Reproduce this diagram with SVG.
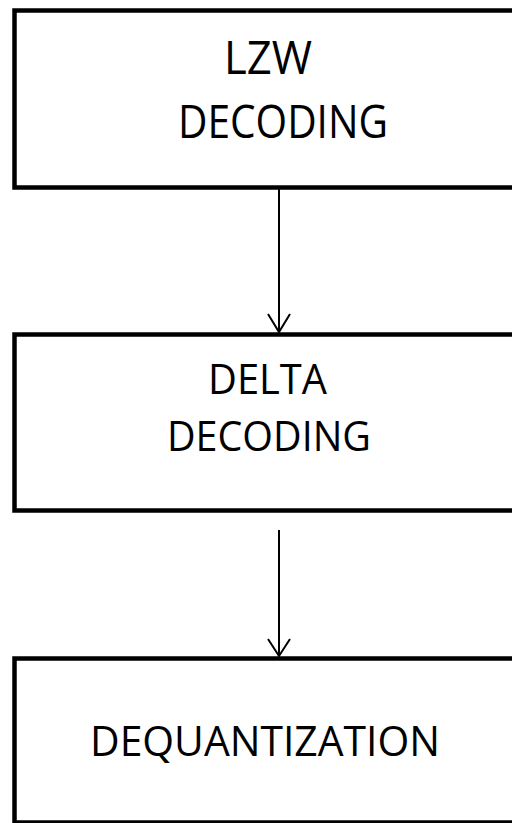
<svg xmlns="http://www.w3.org/2000/svg" width="512" height="823" viewBox="0 0 512 823">
<style>
.box{fill:#fff;stroke:#000;stroke-width:4.5}
.t{font-family:"Open Sans","Noto Sans",sans-serif;fill:#000;text-anchor:middle}
.c{stroke:#000;stroke-width:2;fill:none}
</style>
<rect width="512" height="823" fill="#fff"/>
<g id="n1"><rect class="box" x="14.5" y="10.5" width="520" height="177"/>
<text class="t" x="268" y="74" font-size="45" textLength="88" lengthAdjust="spacingAndGlyphs">LZW</text>
<text class="t" x="283" y="138" font-size="45" textLength="210" lengthAdjust="spacingAndGlyphs">DECODING</text></g>
<g id="n2"><rect class="box" x="14.5" y="334.5" width="520" height="176"/>
<text class="t" x="267.5" y="394" font-size="42" textLength="119" lengthAdjust="spacingAndGlyphs">DELTA</text>
<text class="t" x="269" y="451" font-size="42" textLength="204" lengthAdjust="spacingAndGlyphs">DECODING</text></g>
<g id="n3"><rect class="box" x="14.5" y="658.5" width="520" height="164"/>
<text class="t" x="265" y="756" font-size="42" textLength="350" lengthAdjust="spacingAndGlyphs">DEQUANTIZATION</text></g>
<g id="connectors">
<path class="c" d="M279 188V332M268 314L279 332L290 314"/>
<path class="c" d="M279 530V656M268 639L279 656L290 639"/>
</g>
</svg>
